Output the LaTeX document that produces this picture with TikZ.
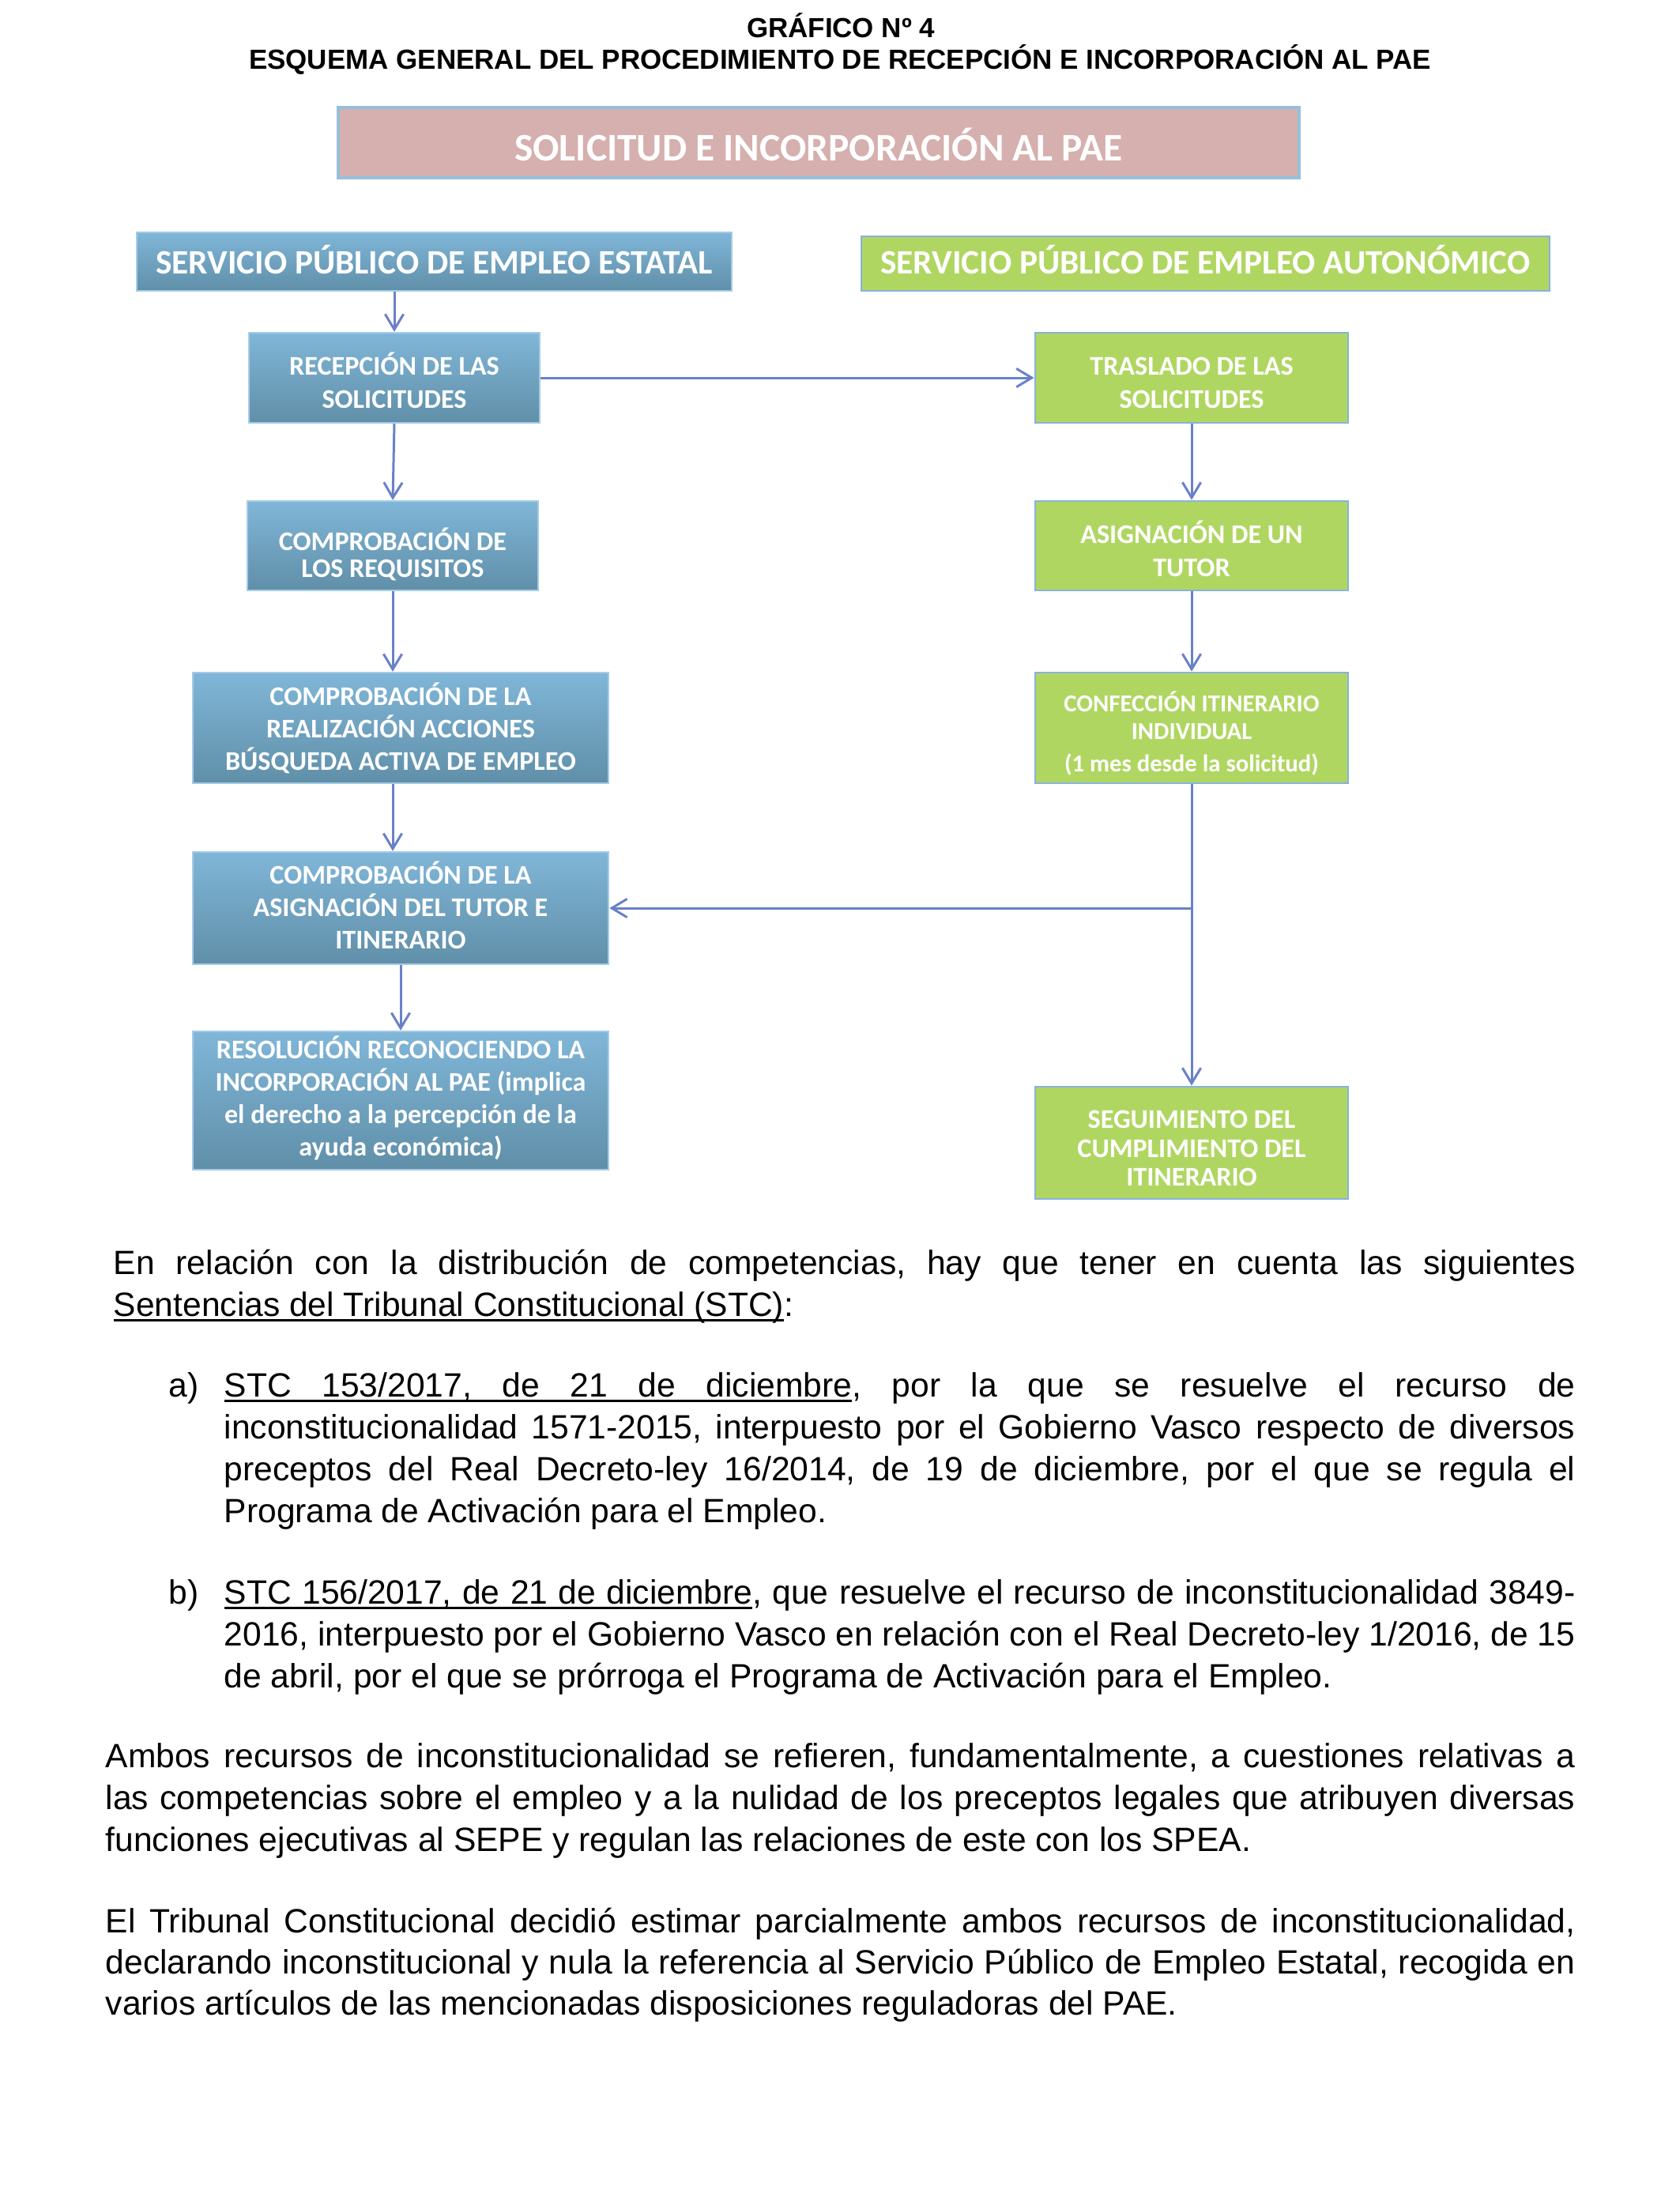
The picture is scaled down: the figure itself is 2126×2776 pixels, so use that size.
\documentclass[tikz,border=0pt]{standalone}
\usepackage{fontspec}
\setmainfont{Liberation Sans}
\newfontfamily\calibri{Carlito}
\usetikzlibrary{arrows.meta,calc}
\definecolor{bluetop}{RGB}{128,182,216}
\definecolor{bluebot}{RGB}{96,143,168}
\definecolor{blueline}{RGB}{165,203,230}
\definecolor{greenfill}{RGB}{176,214,98}
\definecolor{greenline}{RGB}{135,178,222}
\definecolor{pinkfill}{RGB}{213,176,174}
\definecolor{pinkline}{RGB}{150,192,218}
\definecolor{arrowc}{RGB}{106,129,200}
\newcommand\bodyfont{\fontsize{12.07}{14.9}\selectfont\frenchspacing}
\newcommand\titlefont{\fontsize{9.9}{12}\selectfont\bfseries}
\newcommand\ulw[1]{\setbox0\hbox{#1}\rlap{\vrule height -1.2pt depth 2pt width \wd0}\box0}
\newcommand\uls{\leaders\hrule height -1.2pt depth 2pt\hskip\fontdimen2\font plus\fontdimen3\font minus\fontdimen4\font}
\begin{document}
\begin{tikzpicture}[x=0.2833pt,y=-0.2833pt,
  sz/.style 2 args={minimum width={#1*0.2833pt},minimum height={#2*0.2833pt}},
  boxbase/.style={rectangle,inner sep=0pt},
  bluebox/.style={boxbase,top color=bluetop,bottom color=bluebot,draw=blueline,line width=0.7pt},
  greenbox/.style={boxbase,fill=greenfill,draw=greenline,line width=0.8pt},
  titlebox/.style={boxbase,fill=pinkfill,draw=pinkline,line width=1pt},
  boxtext/.style={inner sep=0pt,align=center,text=white},
  inner/.style={boxtext,font=\calibri\bfseries\fontsize{9.66}{11.6}\selectfont},
  arr/.style={draw=arrowc,line width=0.85pt,-{Straight Barb[length=5.5pt,width=6.6pt,line width=0.85pt]}},
  txt/.style={anchor=base west,inner sep=0pt,font=\bodyfont},
  ]
\useasboundingbox (0,0) rectangle (2126,2776);
\fill[white] (0,0) rectangle (2126,2776);

% headings
\node[anchor=base,inner sep=0pt,font=\titlefont] (g1) at (1064,47) {GRÁFICO Nº 4};
\node[anchor=base,inner sep=0pt,font=\titlefont] (g2) at (1063,87) {ESQUEMA GENERAL DEL PROCEDIMIENTO DE RECEPCIÓN E INCORPORACIÓN AL PAE};

% boxes
\node[titlebox,sz={1216}{89}] (top) at (1036,180.5) {};
\node[bluebox,sz={753}{74}] (spee) at (549.5,331) {};
\node[greenbox,sz={871}{69}] (spea) at (1525.5,333.5) {};
\node[bluebox,sz={368}{114}] (rec) at (499,478) {};
\node[greenbox,sz={396}{114}] (tras) at (1508,478) {};
\node[bluebox,sz={368}{113}] (req) at (497,690.5) {};
\node[greenbox,sz={396}{113}] (tut) at (1508,690.5) {};
\node[bluebox,sz={526}{140}] (real) at (507,921) {};
\node[greenbox,sz={396}{140}] (conf) at (1508,921) {};
\node[bluebox,sz={526}{142}] (asig) at (507,1149) {};
\node[bluebox,sz={526}{175}] (res) at (507,1392.5) {};
\node[greenbox,sz={396}{142}] (seg) at (1508,1446) {};

% box texts
\node[boxtext,font=\calibri\bfseries\fontsize{14}{16}\selectfont] (top-t) at ($(top.center)+(0,2)$) {SOLICITUD E INCORPORACIÓN AL PAE};
\node[boxtext,font=\calibri\bfseries\fontsize{12.25}{14}\selectfont] (spee-t) at ($(spee.center)+(0,-3)$) {SERVICIO PÚBLICO DE EMPLEO ESTATAL};
\node[boxtext,font=\calibri\bfseries\fontsize{12.25}{14}\selectfont] (spea-t) at ($(spea.center)+(0,-5)$) {SERVICIO PÚBLICO DE EMPLEO AUTONÓMICO};
\node[boxtext,font=\calibri\bfseries\fontsize{9.66}{11.9}\selectfont] (rec-t) at ($(rec.center)+(0,3)$) {RECEPCIÓN DE LAS\\SOLICITUDES};
\node[boxtext,font=\calibri\bfseries\fontsize{9.66}{11.9}\selectfont] (tras-t) at ($(tras.center)+(0,6)$) {TRASLADO DE LAS\\SOLICITUDES};
\node[boxtext,font=\calibri\bfseries\fontsize{9.66}{9.5}\selectfont] (req-t) at ($(req.center)+(0,11)$) {COMPROBACIÓN DE\\LOS REQUISITOS};
\node[boxtext,font=\calibri\bfseries\fontsize{9.66}{11.9}\selectfont] (tut-t) at ($(tut.center)+(0,4)$) {ASIGNACIÓN DE UN\\TUTOR};
\node[inner] (real-t) at (real.center) {COMPROBACIÓN DE LA\\REALIZACIÓN ACCIONES\\BÚSQUEDA ACTIVA DE EMPLEO};
\node[boxtext,font=\calibri\bfseries\fontsize{8.7}{9.9}\selectfont] (conf-t) at ($(conf.center)+(0,7)$) {CONFECCIÓN ITINERARIO\\INDIVIDUAL\\[1.7pt](1 mes desde la solicitud)};
\node[inner] (asig-t) at ($(asig.center)+(0,-4)$) {COMPROBACIÓN DE LA\\ASIGNACIÓN DEL TUTOR E\\ITINERARIO};
\node[inner] (res-t) at ($(res.center)+(0,-3)$) {RESOLUCIÓN RECONOCIENDO LA\\INCORPORACIÓN AL PAE (implica\\el derecho a la percepción de la\\ayuda económica)};
\node[boxtext,font=\calibri\bfseries\fontsize{9.66}{10.35}\selectfont] (seg-t) at ($(seg.center)+(0,7)$) {SEGUIMIENTO DEL\\CUMPLIMIENTO DEL\\ITINERARIO};

% connectors
\draw[arr] (spee.south -| rec.north) -- (rec.north);
\draw[arr] (rec.east) -- (tras.west);
\draw[arr] (rec.south) -- (req.north);
\draw[arr] (req.south) -- (req.south |- real.north);
\draw[arr] (real.south -| req.south) -- (req.south |- asig.north);
\draw[arr] (asig.south) -- (res.north);
\draw[arr] (tras.south) -- (tut.north);
\draw[arr] (tut.south) -- (conf.north);
\draw[arr] (conf.south) -- (seg.north);
\coordinate (br) at (conf.south |- asig.east);
\draw[arr] (br) -- (asig.east);

% body text
\node[txt] (p1a) at (143,1612) {\hbox to 524.1pt{En relación con la distribución de competencias, hay que tener en cuenta las siguientes}};
\node[txt] (p1b) at (143,1665) {\ulw{Sentencias del Tribunal Constitucional (STC)}:};

\node[txt] (la) at (213,1767) {a)};
\node[txt] (a1) at (283,1767) {\hbox to 484.4pt{\ulw{STC}\uls\ulw{153/2017,}\uls\ulw{de}\uls\ulw{21}\uls\ulw{de}\uls\ulw{diciembre}, por la que se resuelve el recurso de}};
\node[txt] (a2) at (283,1820) {\hbox to 484.4pt{inconstitucionalidad 1571-2015, interpuesto por el Gobierno Vasco respecto de diversos}};
\node[txt] (a3) at (283,1873) {\hbox to 484.4pt{preceptos del Real Decreto-ley 16/2014, de 19 de diciembre, por el que se regula el}};
\node[txt] (a4) at (283,1926) {Programa de Activación para el Empleo.};

\node[txt] (lb) at (213,2029) {b)};
\node[txt] (b1) at (283,2029) {\hbox to 484.4pt{\ulw{STC}\uls\ulw{156/2017,}\uls\ulw{de}\uls\ulw{21}\uls\ulw{de}\uls\ulw{diciembre}, que resuelve el recurso de inconstitucionalidad 3849-}};
\node[txt] (b2) at (283,2082) {\hbox to 484.4pt{2016, interpuesto por el Gobierno Vasco en relación con el Real Decreto-ley 1/2016, de 15}};
\node[txt] (b3) at (283,2135) {de abril, por el que se prórroga el Programa de Activación para el Empleo.};

\node[txt] (c1) at (133,2236) {\hbox to 526.9pt{Ambos recursos de inconstitucionalidad se refieren, fundamentalmente, a cuestiones relativas a}};
\node[txt] (c2) at (133,2289) {\hbox to 526.9pt{las competencias sobre el empleo y a la nulidad de los preceptos legales que atribuyen diversas}};
\node[txt] (c3) at (133,2342) {funciones ejecutivas al SEPE y regulan las relaciones de este con los SPEA.};

\node[txt] (d1) at (133,2445) {\hbox to 526.9pt{El Tribunal Constitucional decidió estimar parcialmente ambos recursos de inconstitucionalidad,}};
\node[txt] (d2) at (133,2497) {\hbox to 526.9pt{declarando inconstitucional y nula la referencia al Servicio Público de Empleo Estatal, recogida en}};
\node[txt] (d3) at (133,2549) {varios artículos de las mencionadas disposiciones reguladoras del PAE.};
\end{tikzpicture}
\end{document}
